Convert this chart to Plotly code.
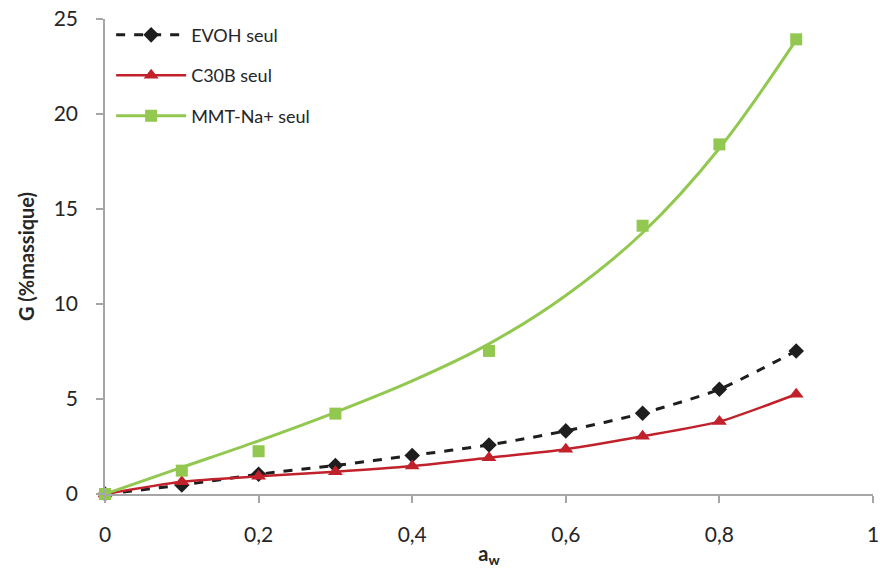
import plotly.graph_objects as go

aw = [0, 0.1, 0.2, 0.3, 0.4, 0.5, 0.6, 0.7, 0.8, 0.9]
evoh = [0, 0.47, 1.04, 1.5, 2.03, 2.58, 3.32, 4.25, 5.51, 7.53]
c30b = [0, 0.65, 0.93, 1.17, 1.47, 1.91, 2.36, 3.04, 3.81, 5.25]
mmt = [0, 1.23, 2.25, 4.23, None, 7.53, None, 14.12, 18.4, 23.93]
mmt_fit = [0, 1.4, 2.8, 4.3, 5.95, 7.9, 10.45, 13.75, 18.2, 23.9]

x_ticks = [0, 0.2, 0.4, 0.6, 0.8, 1]
y_ticks = [0, 5, 10, 15, 20, 25]

BLACK = "#1e1e1e"
RED = "#c1212b"
GREEN = "#92c850"
AXIS = "#a6a6a6"
TXT = "#262626"
FONT = "Lato"

fig = go.Figure()

fig.add_trace(go.Scatter(
    x=aw, y=evoh, mode="lines+markers", name="EVOH seul",
    line=dict(color=BLACK, width=3, dash="dash", shape="spline", smoothing=0.6),
    marker=dict(symbol="diamond", size=12, color=BLACK),
    legendgroup="a", cliponaxis=False))

fig.add_trace(go.Scatter(
    x=aw, y=c30b, mode="lines+markers", name="C30B seul",
    line=dict(color=RED, width=2.5, shape="spline", smoothing=0.6),
    marker=dict(symbol="triangle-up", size=13, color=RED),
    legendgroup="b", cliponaxis=False))

fig.add_trace(go.Scatter(
    x=aw, y=mmt_fit, mode="lines", name="MMT-Na+ seul",
    line=dict(color=GREEN, width=3, shape="spline", smoothing=1.0),
    showlegend=False, legendgroup="c", cliponaxis=False))

fig.add_trace(go.Scatter(
    x=aw, y=mmt, mode="markers", name="MMT-Na+ seul",
    marker=dict(symbol="square", size=12, color=GREEN),
    showlegend=False, legendgroup="c", cliponaxis=False))

fig.add_trace(go.Scatter(
    x=[None], y=[None], mode="lines+markers", name="MMT-Na+ seul",
    line=dict(color=GREEN, width=3),
    marker=dict(symbol="square", size=12, color=GREEN),
    legendgroup="c"))

fig.update_layout(
    width=880, height=579,
    margin=dict(l=105, r=7, t=19, b=85),
    paper_bgcolor="white", plot_bgcolor="white",
    separators=", ",
    font=dict(family=FONT, color=TXT, size=20),
    showlegend=True,
    legend=dict(
        x=0.008, y=1.005, xanchor="left", yanchor="top",
        font=dict(family=FONT, size=18, color=TXT),
        bgcolor="rgba(0,0,0,0)",
        traceorder="grouped", tracegroupgap=14,
        itemwidth=70),
)

fig.update_xaxes(
    range=[0, 1], tickvals=x_ticks, showgrid=False, zeroline=False,
    showline=True, linecolor=AXIS, linewidth=1.5,
    ticks="outside", ticklen=7, tickcolor=AXIS, tickwidth=1.5,
    ticklabelstandoff=14, automargin=False, ticklabeloverflow="allow",
    tickfont=dict(family=FONT, size=21, color=TXT),
    title=dict(text="<b>a<sub>w</sub></b>", font=dict(family=FONT, size=20, color=TXT), standoff=2),
)
fig.update_yaxes(
    range=[0, 25], tickvals=y_ticks, showgrid=False, zeroline=False,
    showline=True, linecolor=AXIS, linewidth=1.5,
    ticks="outside", ticklen=7, tickcolor=AXIS, tickwidth=1.5,
    ticklabelstandoff=14, automargin=False, ticklabeloverflow="allow",
    tickfont=dict(family=FONT, size=21, color=TXT),
    title=dict(text="<b>G (%massique)</b>", font=dict(family=FONT, size=20, color=TXT), standoff=14),
)

fig.write_html(
    "out.html",
    config={"displayModeBar": False},
    default_width="880px", default_height="579px",
    post_script="document.body.style.margin='0';document.body.style.overflow='hidden';",
)
